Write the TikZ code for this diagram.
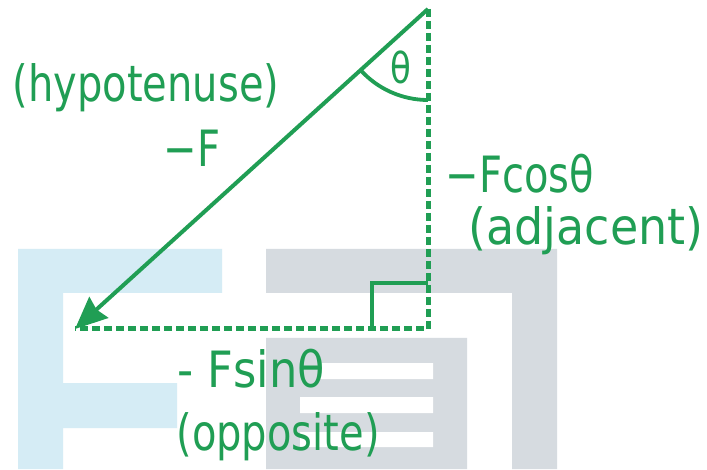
\documentclass[tikz,border=0pt]{standalone}
\usepackage{fontspec}
\usepackage{tikz}
\usepackage{xcolor}
\usetikzlibrary{arrows.meta, positioning, angles}
\setmainfont{DejaVu Sans}
\definecolor{penGreen}{RGB}{32,158,84}
\definecolor{logoBlue}{RGB}{213,236,245}
\definecolor{logoGray}{RGB}{214,219,224}

\begin{document}
\begin{tikzpicture}[
		x=1pt, y=1pt,
		lbl/.style={text=penGreen, inner sep=0pt, anchor=base, yscale=1.25,
			font=\fontsize{40}{48}\selectfont},
		side/.style={draw=penGreen, line width=5pt, dash pattern=on 8pt off 4pt},
		force/.style={-{Stealth[length=32pt, width=28pt, inset=3pt]}, draw=penGreen, line width=4pt},
		rightmark/.style={draw=penGreen, line width=3.8pt}
	]
		\fill[white] (0,0) rectangle (707,469);
		\useasboundingbox (0,0) rectangle (707,469);
		% logo in the background
		\fill[logoBlue] (18,0) rectangle (63,220) (18,176) rectangle (222,220) (18,41) rectangle (177,86);
		\fill[logoGray] (266,176) rectangle (557,220) (512,0) rectangle (557,220) (266,0) rectangle (467,131);
		\fill[white] (320,90) rectangle (433,106) (300,56) rectangle (433,72) (300,22) rectangle (433,37);
		% triangle
		\coordinate (top) at (428,460);
		\coordinate (tip) at (75,140);
		\coordinate (corner) at (428,140);
		\draw[side] (top) -- (corner) -- (tip);
		\draw[force] (top) -- (tip);
		\draw[rightmark] (corner) ++(-56,0) |- ++(56,46);
		\pic[draw=penGreen, line width=3.8pt, angle radius=91pt] {angle=tip--top--corner};
		% labels
		\node[lbl, anchor=center, font=\fontsize{34}{40}\selectfont] (theta) at (401,402) {θ};
		\node[lbl] (hyp) at (146,367) {(hypotenuse)};
		\node[lbl] (negF) at (192,302) {−F};
		\node[lbl] (cos) at (520,276) {−Fcosθ};
		\node[lbl, xscale=1.15] (adj) at (586,224) {(adjacent)};
		\node[lbl, xscale=1.12] (sin) at (251,82) {- Fsinθ};
		\node[lbl] (opp) at (278,19) {(opposite)};
	\end{tikzpicture}
\end{document}
